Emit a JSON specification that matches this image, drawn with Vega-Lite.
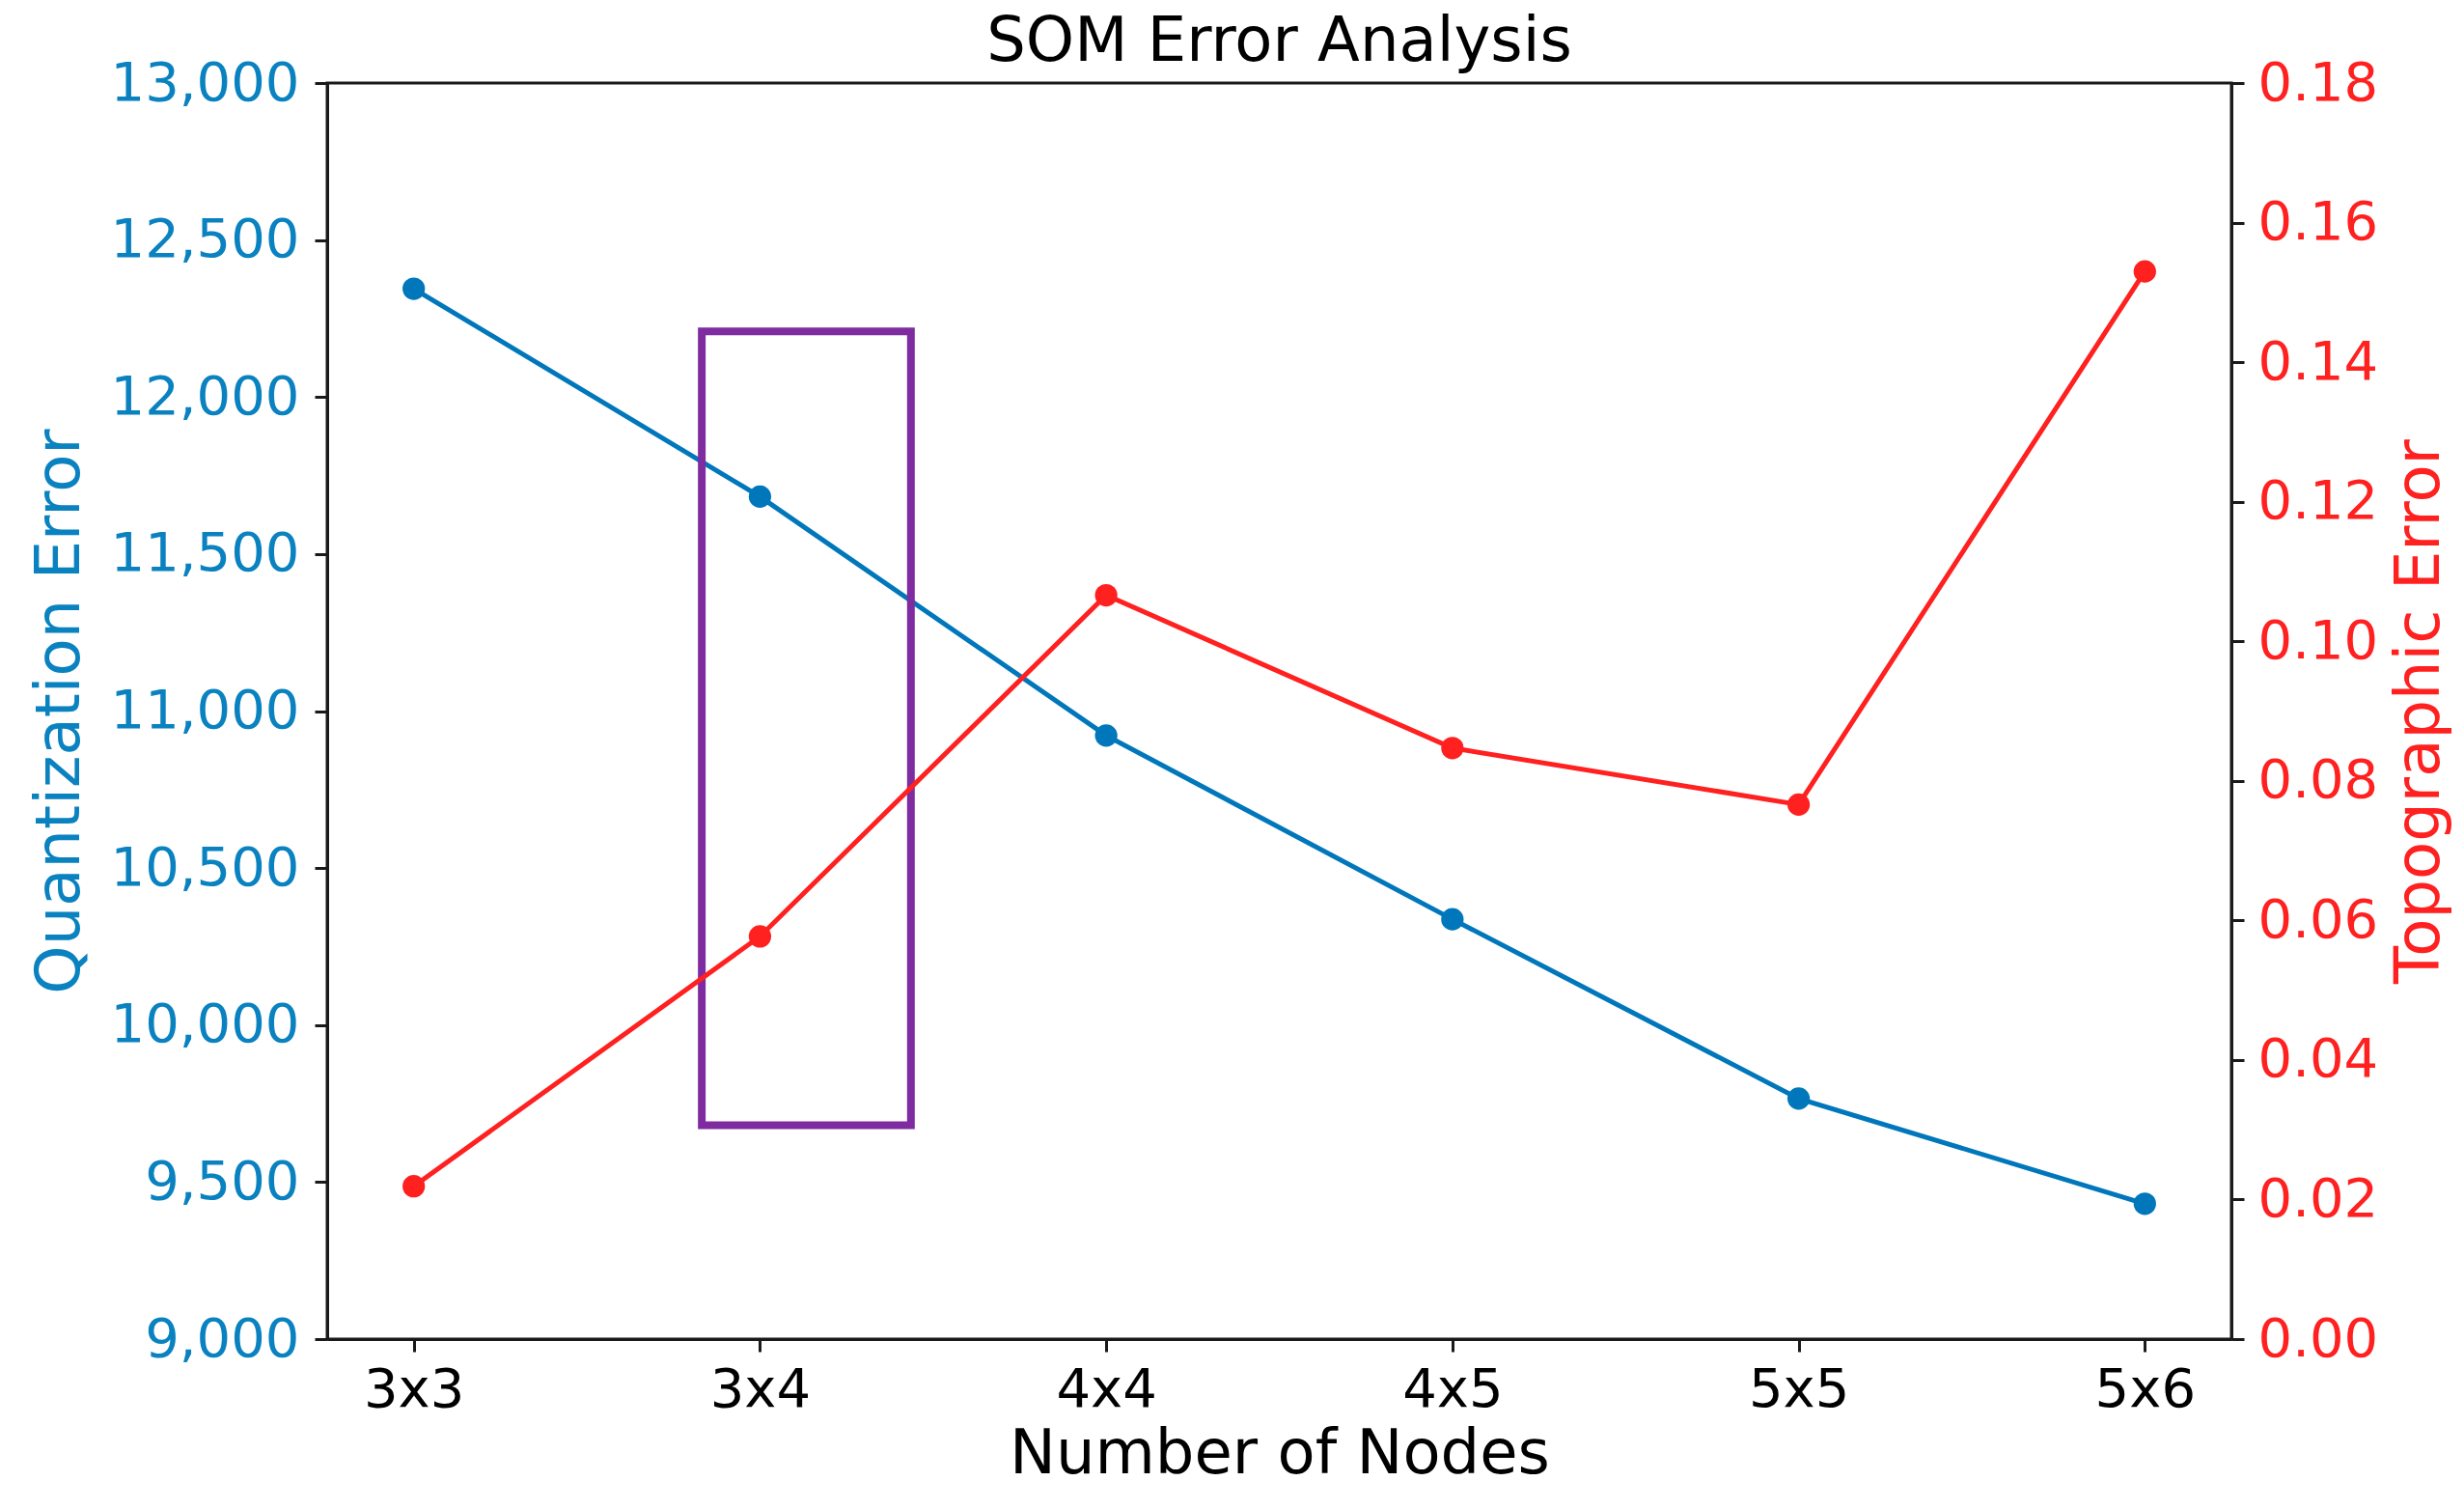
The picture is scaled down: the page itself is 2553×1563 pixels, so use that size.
{
  "$schema": "https://vega.github.io/schema/vega-lite/v6.json",
  "autosize": "none",
  "width": 1973,
  "height": 1301,
  "padding": {"left": 339, "top": 86, "right": 241, "bottom": 176},
  "background": "white",
  "config": {
    "font": "DejaVu Sans",
    "view": {"stroke": "#1a1a1a", "strokeWidth": 3},
    "axis": {"grid": false, "domainColor": "#1a1a1a", "domainWidth": 3, "tickColor": "#1a1a1a", "tickWidth": 3, "tickSize": 13, "labelFont": "DejaVu Sans", "titleFont": "DejaVu Sans", "labelFontSize": 56, "titleFontSize": 64, "titleFontWeight": "normal", "labelLimit": 0}
  },
  "title": {"text": "SOM Error Analysis", "fontSize": 64, "fontWeight": "normal", "font": "DejaVu Sans", "color": "#000000", "anchor": "middle", "offset": -18},
  "datasets": {
    "som": [
      {"idx": 0, "node": "3x3", "quantization": 12345, "topographic": 0.0219},
      {"idx": 1, "node": "3x4", "quantization": 11683, "topographic": 0.0577},
      {"idx": 2, "node": "4x4", "quantization": 10922, "topographic": 0.1066},
      {"idx": 3, "node": "4x5", "quantization": 10337, "topographic": 0.0847},
      {"idx": 4, "node": "5x5", "quantization": 9766, "topographic": 0.0766},
      {"idx": 5, "node": "5x6", "quantization": 9431, "topographic": 0.1530}
    ],
    "box": [
      {"x0": 0.832, "x1": 1.436, "q0": 12209, "q1": 9681}
    ]
  },
  "encoding": {
    "x": {
      "field": "idx", "type": "quantitative",
      "scale": {"domain": [-0.25, 5.25], "nice": false, "zero": false},
      "axis": {"values": [0, 1, 2, 3, 4, 5], "labelExpr": "['3x3','3x4','4x4','4x5','5x5','5x6'][datum.value]", "title": "Number of Nodes", "labelColor": "#000000", "titleColor": "#000000", "labelPadding": 12, "titlePadding": 7, "labelFlush": false}
    }
  },
  "layer": [
    {
      "data": {"name": "som"},
      "encoding": {
        "y": {
          "field": "quantization", "type": "quantitative",
          "scale": {"domain": [9000, 13000], "nice": false, "zero": false},
          "axis": {"orient": "left", "title": "Quantization Error", "values": [9000, 9500, 10000, 10500, 11000, 11500, 12000, 12500, 13000], "format": ",.0f", "labelColor": "#0a82c0", "titleColor": "#0a82c0", "labelPadding": 16, "titlePadding": 45}
        }
      },
      "layer": [
        {"mark": {"type": "line", "color": "#0077bb", "strokeWidth": 5}},
        {"mark": {"type": "point", "filled": true, "color": "#0077bb", "size": 540, "opacity": 1}},
        {
          "data": {"name": "box"},
          "mark": {"type": "rect", "fill": null, "fillOpacity": 0, "stroke": "#7f2ca0", "strokeWidth": 8},
          "encoding": {
            "x": {"field": "x0", "type": "quantitative"},
            "x2": {"field": "x1"},
            "y": {"field": "q0", "type": "quantitative"},
            "y2": {"field": "q1"}
          }
        }
      ]
    },
    {
      "data": {"name": "som"},
      "encoding": {
        "y": {
          "field": "topographic", "type": "quantitative",
          "scale": {"domain": [0, 0.18], "nice": false},
          "axis": {"orient": "right", "title": "Topographic Error", "titleAngle": 270, "values": [0, 0.02, 0.04, 0.06, 0.08, 0.1, 0.12, 0.14, 0.16, 0.18], "format": ".2f", "labelColor": "#ff2020", "titleColor": "#ff2020", "labelPadding": 14, "titlePadding": 76}
        }
      },
      "layer": [
        {"mark": {"type": "line", "color": "#ff2020", "strokeWidth": 5}},
        {"mark": {"type": "point", "filled": true, "color": "#ff2020", "size": 540, "opacity": 1}}
      ]
    }
  ],
  "resolve": {"scale": {"y": "independent"}}
}
